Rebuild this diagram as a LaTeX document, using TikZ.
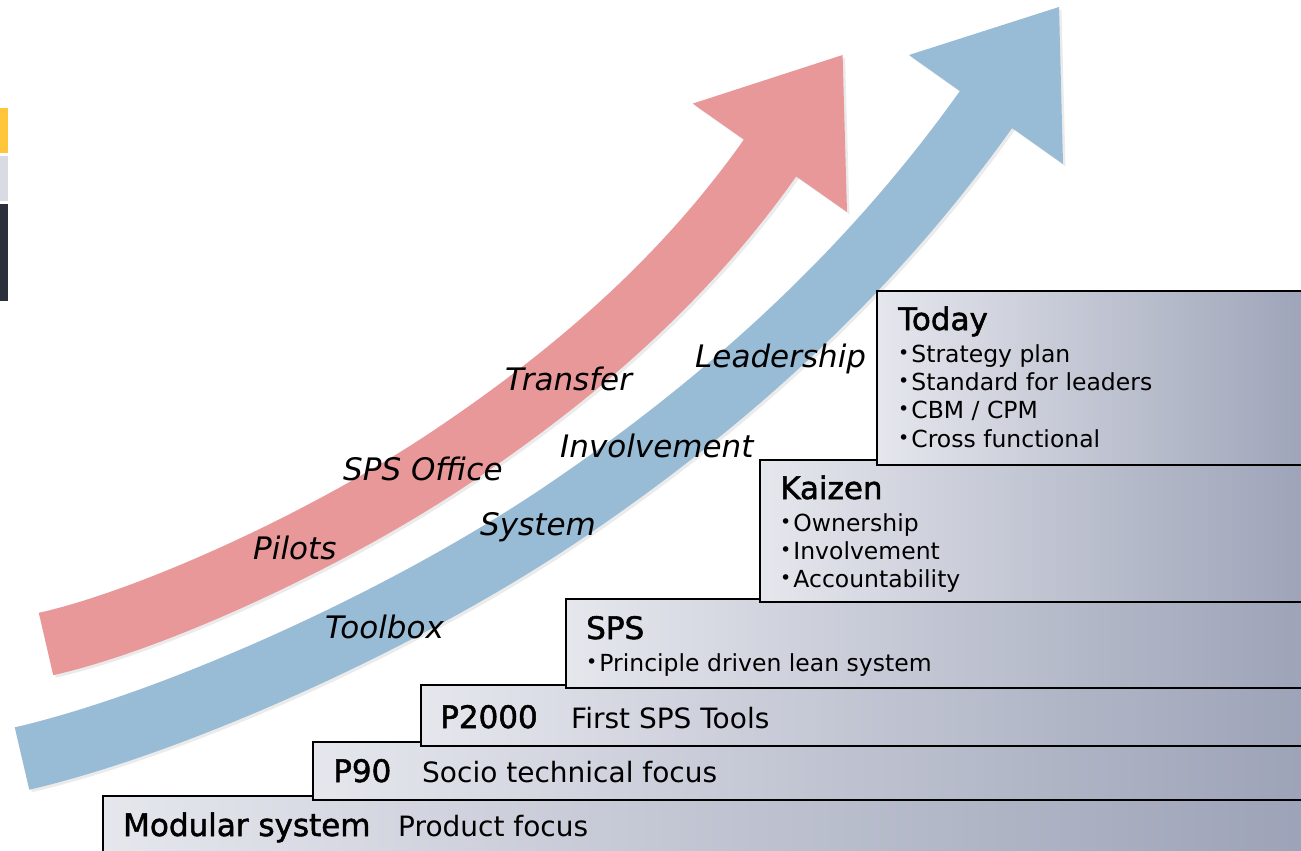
\documentclass[tikz,border=0pt]{standalone}
\usepackage{fontspec}
\setmainfont{DejaVu Sans}
\newfontfamily\ttlfont[FakeBold=1.6]{DejaVu Sans}
\definecolor{pinkA}{RGB}{233,152,153}
\definecolor{blueA}{RGB}{152,188,213}
\definecolor{boxL}{RGB}{229,231,237}
\definecolor{boxR}{RGB}{156,162,183}
\definecolor{barY}{RGB}{255,198,58}
\definecolor{barG}{RGB}{216,219,227}
\definecolor{barD}{RGB}{41,48,60}
\newcommand\mybul{\raisebox{2.4pt}{\fontsize{19}{19}\selectfont •}\hspace{2pt}}
\begin{document}
\begin{tikzpicture}[x=1pt,y=-1pt,
  stepbox/.style={draw=black, line width=2.8pt, left color=boxL, right color=boxR},
  band/.style={line width=64pt, line cap=butt},
  ttl/.style={anchor=base west, inner sep=0pt, font=\ttlfont\fontsize{31}{31}\selectfont},
  dsc/.style={anchor=base west, inner sep=0pt, font=\fontsize{28}{28}\selectfont},
  bll/.style={anchor=base west, inner sep=0pt, font=\fontsize{23.5}{28}\selectfont},
  lab/.style={anchor=base west, inner sep=0pt, font=\fontsize{31}{31}\selectfont\itshape},
]
\useasboundingbox (0,0) rectangle (1301,851);
\clip (0,0) rectangle (1301,851);
\fill[white] (0,0) rectangle (1301,851);

% left colour bars
\fill[barY] (0,108) rectangle (8,153);
\fill[barG] (0,156) rectangle (8,201);
\fill[barD] (0,204) rectangle (8,301);

% shadows
\begin{scope}[shift={(2.5,2.5)}, black, opacity=0.08]
  \draw[band] (46,644) .. controls (153.3,619.8) and (330,538.75) .. (452.8,456.1)
     .. controls (575.6,373.5) and (683.5,280.5) .. (770,158) -- ++(1.2,-1.6);
  \fill (692.7,103.6) -- (842.6,55) -- (847,212) -- cycle;
  \draw[band] (22,758.5) .. controls (168.1,724.9) and (400,623) .. (563.25,512.7)
     .. controls (726.5,402.4) and (870,272.5) .. (986,109.5) -- ++(1.2,-1.6);
  \fill (909,55) -- (1059,7) -- (1063,164) -- cycle;
\end{scope}

% pink arrow
\draw[band, pinkA] (46,644) .. controls (153.3,619.8) and (330,538.75) .. (452.8,456.1)
     .. controls (575.6,373.5) and (683.5,280.5) .. (770,158) -- ++(1.2,-1.6);
\fill[pinkA] (692.7,103.6) -- (842.6,55) -- (847,212) -- cycle;
% blue arrow
\draw[band, blueA] (22,758.5) .. controls (168.1,724.9) and (400,623) .. (563.25,512.7)
     .. controls (726.5,402.4) and (870,272.5) .. (986,109.5) -- ++(1.2,-1.6);
\fill[blueA] (909,55) -- (1059,7) -- (1063,164) -- cycle;

% steps
\path[stepbox] (103,796) rectangle (1320,880);
\path[stepbox] (313,742) rectangle (1320,800);
\path[stepbox] (421,685) rectangle (1320,746);
\path[stepbox] (566,599) rectangle (1320,688);
\path[stepbox] (760,460) rectangle (1320,602);
\path[stepbox] (877,291) rectangle (1320,465);

% step texts
\node[ttl] (mod) at (123,836) {Modular system};
\node[dsc] (modd) at (398,836) {Product focus};
\node[ttl] (p90) at (333,782) {P90};
\node[dsc] (p90d) at (422,782) {Socio technical focus};
\node[ttl] (p2k) at (440,728) {P2000};
\node[dsc] (p2kd) at (571,728) {First SPS Tools};
\node[ttl] (sps) at (586,639) {SPS};
\node[bll] (spsa) at (586,671) {\mybul Principle driven lean system};
\node[ttl] (kai) at (780,499) {Kaizen};
\node[bll] (kaia) at (780,531) {\mybul Ownership};
\node[bll] (kaib) at (780,559) {\mybul Involvement};
\node[bll] (kaic) at (780,587) {\mybul Accountability};
\node[ttl] (tod) at (898,330) {Today};
\node[bll] (toda) at (898,362) {\mybul Strategy plan};
\node[bll] (todb) at (898,390) {\mybul Standard for leaders};
\node[bll] (todc) at (898,418) {\mybul CBM / CPM};
\node[bll] (todd) at (898,447) {\mybul Cross functional};

% arrow labels
\node[lab] (pil) at (253,559) {Pilots};
\node[lab] (spo) at (343,480) {SPS Office};
\node[lab] (tra) at (505,390) {Transfer};
\node[lab] (too) at (325,638) {Toolbox};
\node[lab] (sys) at (480,535) {System};
\node[lab] (inv) at (560,457) {Involvement};
\node[lab] (lea) at (695,367) {Leadership};
\end{tikzpicture}
\end{document}
